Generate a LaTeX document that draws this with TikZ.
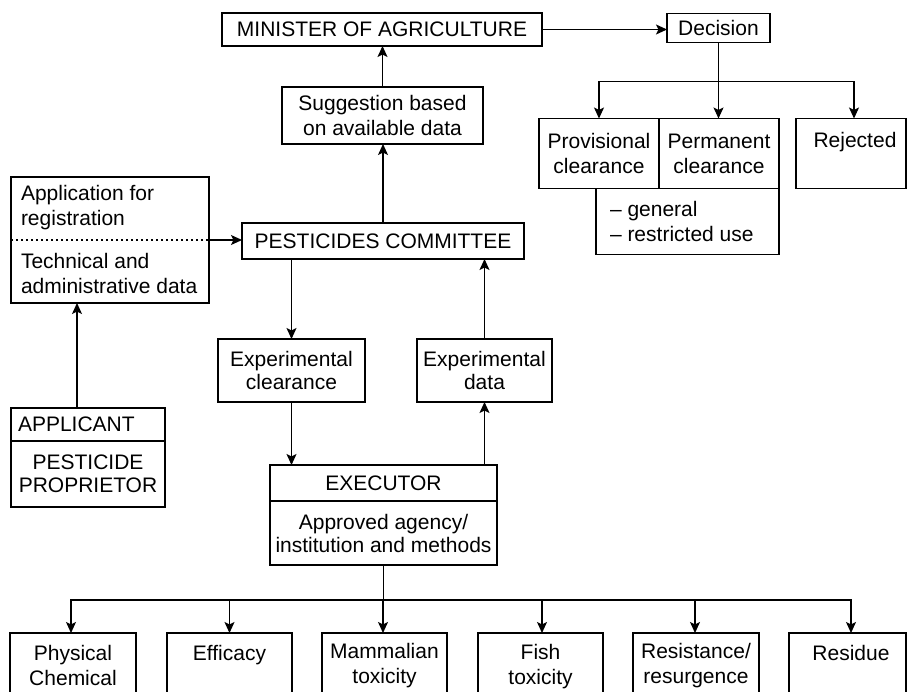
\documentclass[tikz,border=0pt]{standalone}
\usepackage{fontspec}
\setmainfont{Liberation Sans}
\usetikzlibrary{arrows.meta}
\begin{document}
\begin{tikzpicture}[x=1pt,y=-1pt,
  every node/.style={font=\fontsize{21}{25}\selectfont, inner sep=0pt, outer sep=0pt},
  box/.style={draw, line width=1.2pt, rectangle, align=center},
  txt/.style={align=center},
  ln/.style={line width=1.2pt},
  arr/.style={line width=1.2pt, -{Stealth[length=11pt,width=10pt,inset=2.5pt]}}]
\useasboundingbox (0,0) rectangle (907,691);
\clip (0,0) rectangle (907,691);

% top
\node[box, minimum width=320pt, minimum height=33pt] (min) at (382,29.5) {MINISTER OF AGRICULTURE};
\node[box, minimum width=103pt, minimum height=29pt] (dec) at (718.5,28) {Decision};
\node[box, minimum width=201pt, minimum height=57pt] (sug) at (382.5,115.5) {Suggestion based\\on available data};

% decision outcomes
\node[box, minimum width=120pt, minimum height=70pt] (prov) at (599,153.5) {Provisional\\clearance};
\node[box, minimum width=120pt, minimum height=70pt] (perm) at (719,153.5) {Permanent\\clearance};
\node[box, minimum width=183pt, minimum height=66pt] (gen) at (687.5,221.5) {};
\node[anchor=west, align=left] (gent) at (610,221.5) {– general\\– restricted use};
\node[box, minimum width=110pt, minimum height=70pt] (rej) at (851,153.5) {};
\node[anchor=base] (rejt) at (855,147.5) {Rejected};

% left
\node[box, minimum width=198pt, minimum height=126pt] (app) at (110,240) {};
\node[anchor=west, align=left] (appt1) at (21,208) {Application for\\registration};
\node[anchor=west, align=left] (appt2) at (21,273) {Technical and\\administrative data};
\draw[ln, dash pattern=on 2pt off 3pt] (app.west) -- (app.east);

\node[box, minimum width=154pt, minimum height=33pt] (apph) at (88,424.5) {};
\node[anchor=west] (apht) at (18,424.5) {APPLICANT};
\node[box, minimum width=154pt, minimum height=66pt] (appb) at (88,474) {PESTICIDE\\[-2pt]PROPRIETOR};

% committee
\node[box, minimum width=282pt, minimum height=36pt] (pest) at (383,241) {PESTICIDES COMMITTEE};
\node[box, minimum width=147pt, minimum height=63pt] (expc) at (291.5,370.5) {Experimental\\[-2pt]clearance};
\node[box, minimum width=135pt, minimum height=63pt] (expd) at (484.5,370.5) {Experimental\\[-2pt]data};

% executor
\node[box, minimum width=227pt, minimum height=36pt] (exeh) at (383.5,483) {EXECUTOR};
\node[box, minimum width=227pt, minimum height=64pt] (exeb) at (383.5,533) {Approved agency/\\[-2pt]institution and methods};
\draw[line width=2pt] (exeh.south west) -- (exeh.south east);

% bottom row
\node[box, minimum width=126pt, minimum height=87pt] (r1) at (73,676.5) {};
\node[box, minimum width=125pt, minimum height=87pt] (r2) at (229.5,676.5) {};
\node[box, minimum width=125pt, minimum height=87pt] (r3) at (384.5,676.5) {};
\node[box, minimum width=125pt, minimum height=87pt] (r4) at (540.5,676.5) {};
\node[box, minimum width=126pt, minimum height=87pt] (r5) at (696,676.5) {};
\node[box, minimum width=117pt, minimum height=87pt] (r6) at (847.5,676.5) {};
\node[txt] (r1t) at (73,665.5) {Physical\\Chemical};
\node[anchor=base] (r2t) at (229.5,660.5) {Efficacy};
\node[txt] (r3t) at (384.5,665.5) {Mammalian\\toxicity};
\node[txt] (r4t) at (540.5,667) {Fish\\toxicity};
\node[txt] (r5t) at (696,665.5) {Resistance/\\resurgence};
\node[anchor=base] (r6t) at (851,660.5) {Residue};

% connectors
\draw[arr] (sug.north) -- (sug.north |- min.south);
\draw[arr] (pest.north) -- (pest.north |- sug.south);
\draw[arr] (min.east) -- (min.east -| dec.west);
\coordinate (dj) at (718.5,81.5);
\draw[arr] (dec.south) -- (dec.south |- perm.north);
\draw[arr] (dj) -| (prov.north);
\draw[arr] (dj) -| ([xshift=3pt]rej.north);
\draw[arr] (app.east) -- (app.east -| pest.west);
\draw[arr] ([xshift=-11pt]apph.north) -- ([xshift=-11pt]apph.north |- app.south);
\draw[arr] (expc.north |- pest.south) -- (expc.north);
\draw[arr] (expc.south) -- (expc.south |- exeh.north);
\draw[arr] (expd.south |- exeh.north) -- (expd.south);
\draw[arr] (expd.north) -- (expd.north |- pest.south);
\coordinate (bj) at (383.5,600);
\draw[ln] (exeb.south) -- (bj);
\draw[arr] (bj) -| ([xshift=-2pt]r1.north);
\draw[arr] (bj) -| (r2.north);
\draw[arr] (bj) -| ([xshift=-1.5pt]r3.north);
\draw[arr] (bj) -| ([xshift=1.5pt]r4.north);
\draw[arr] (bj) -| ([xshift=-1pt]r5.north);
\draw[arr] (bj) -| ([xshift=3.5pt]r6.north);
\end{tikzpicture}
\end{document}
